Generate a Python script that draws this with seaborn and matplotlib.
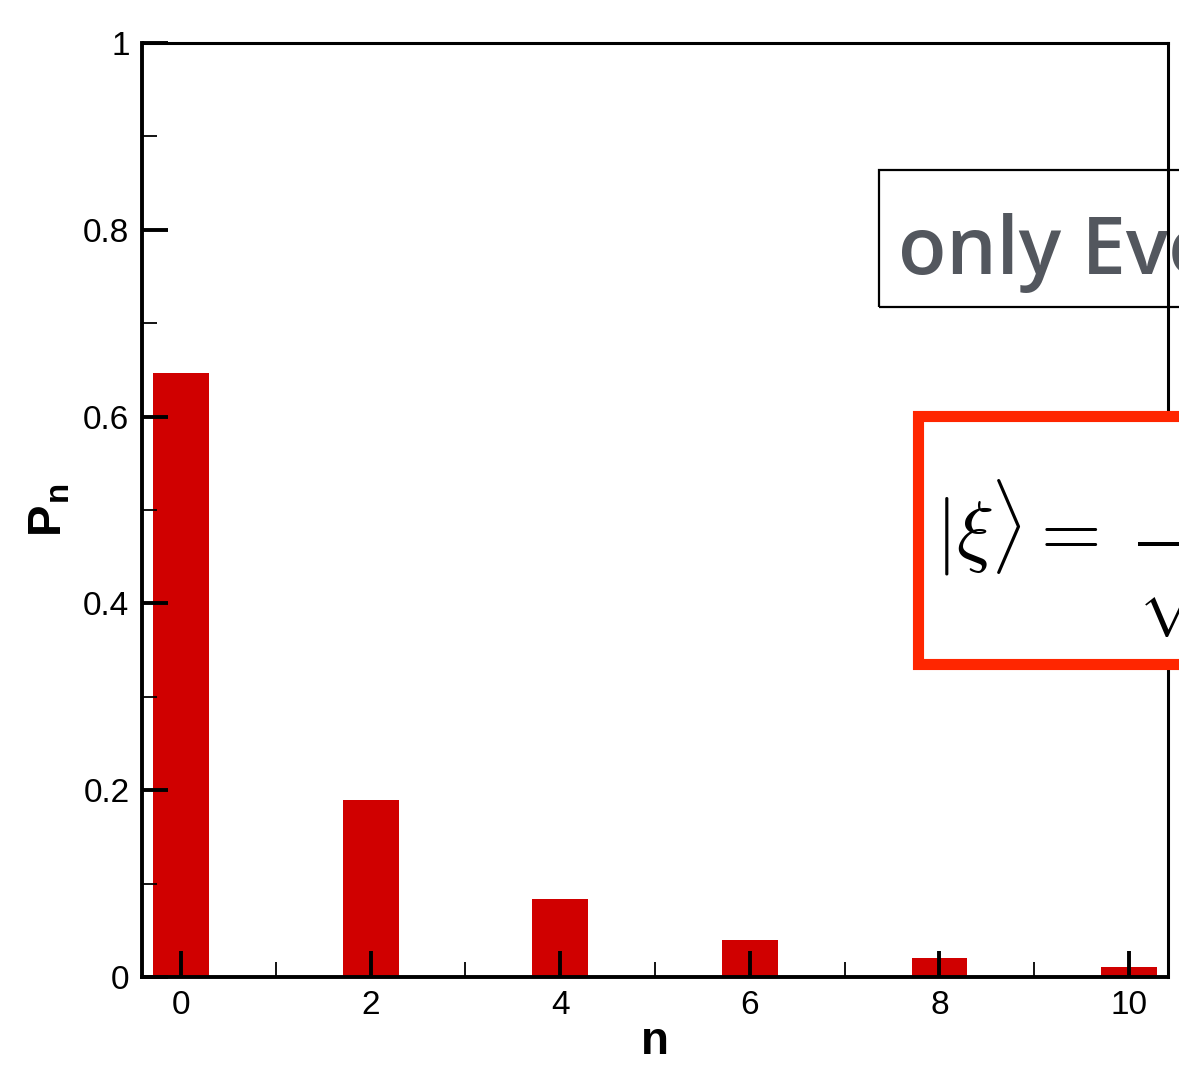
import numpy as np
import pandas as pd
import matplotlib
matplotlib.use('Agg')
import matplotlib.pyplot as plt
from matplotlib.patches import Rectangle
from matplotlib.ticker import MultipleLocator, FixedLocator, FixedFormatter
import seaborn as sns

# photon number distribution, only even n
n_vals = [0, 2, 4, 6, 8, 10]
p_vals = [0.647, 0.189, 0.083, 0.040, 0.020, 0.011]
x_ticks = [0, 2, 4, 6, 8, 10]
y_ticks = [0, 0.2, 0.4, 0.6, 0.8, 1.0]
y_tick_labels = ['0', '0.2', '0.4', '0.6', '0.8', '1']

df = pd.DataFrame({'n': n_vals, 'Pn': p_vals})

sns.set_style('white')
plt.rcParams['font.family'] = ['Liberation Sans', 'DejaVu Sans']
plt.rcParams['mathtext.fontset'] = 'cm'
plt.rcParams['text.color'] = 'black'
plt.rcParams['axes.labelcolor'] = 'black'
plt.rcParams['xtick.color'] = 'black'
plt.rcParams['ytick.color'] = 'black'

fig = plt.figure(figsize=(11.79, 10.66), dpi=100)
ax = fig.add_axes([142/1179, 1 - 977/1066, (1168 - 142)/1179, (977 - 43)/1066])

sns.barplot(data=df, x='n', y='Pn', native_scale=True, width=0.295,
            color='#d00000', saturation=1, linewidth=0, errorbar=None, ax=ax)

ax.set_axisbelow(False)
ax.set_xlim(-0.41, 10.41)
ax.set_ylim(0, 1)
ax.xaxis.set_major_locator(FixedLocator(x_ticks))
ax.xaxis.set_minor_locator(MultipleLocator(1))
ax.yaxis.set_major_locator(FixedLocator(y_ticks))
ax.yaxis.set_major_formatter(FixedFormatter(y_tick_labels))
ax.yaxis.set_minor_locator(MultipleLocator(0.1))

ax.tick_params(which='major', direction='in', length=19, width=2.8, labelsize=24,
               labelcolor='black', color='black', top=False, right=False,
               bottom=True, left=True, pad=9)
ax.tick_params(which='minor', direction='in', length=11, width=1.3,
               color='black', top=False, right=False, bottom=True, left=True)
for name, s in ax.spines.items():
    s.set_color('black')
    s.set_linewidth(2.8 if name in ('left', 'bottom') else 2.2)
    s.set_visible(True)
    s.set_zorder(2.5)

ax.set_xlabel('n', fontsize=33, fontweight='bold', labelpad=0)
ax.set_ylabel(r'P$_{\mathregular{n}}$', fontsize=34, fontweight='bold', labelpad=8)

# "only Even" box (right spine shows over it)
ax.add_patch(Rectangle((879/1179, 1 - 307/1066), 0.4, 137/1066, transform=fig.transFigure,
                       facecolor='none', edgecolor='black', linewidth=1.6,
                       clip_on=False, zorder=2))
ax.text(898/1179, 1 - 274/1066, 'only Even n', transform=fig.transFigure,
        fontsize=57, fontweight='semibold', family=['Open Sans', 'DejaVu Sans'],
        color='#53575e', ha='left', va='baseline', clip_on=False, zorder=2)

# red formula box on top
fig.add_artist(Rectangle((917.5/1179, 1 - 664/1066), 0.4, (664 - 416.5)/1066,
                         transform=fig.transFigure, facecolor='white',
                         edgecolor='#ff2600', linewidth=8, zorder=10))
fig.text(935/1179, 1 - 558/1066, r'$|\xi\rangle =\ \dfrac{1}{\sqrt{\cosh r}}\sum_n$',
         fontsize=56, color='black', ha='left', va='baseline', zorder=11)

fig.savefig('out.png', dpi=100)
